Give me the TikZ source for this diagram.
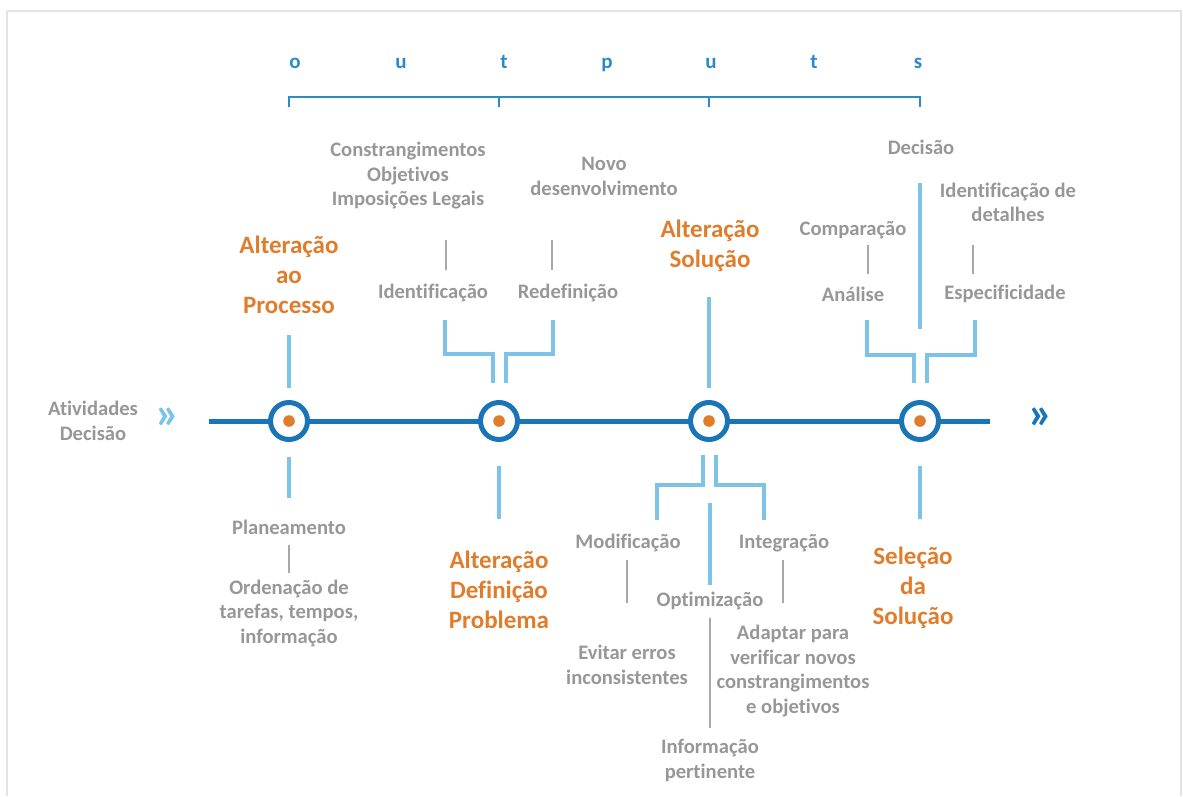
\documentclass[tikz,border=0pt]{standalone}
\usepackage{fontspec}
\setmainfont{Carlito}[Ligatures=NoCommon]
\definecolor{greytxt}{HTML}{979797}
\definecolor{greyline}{HTML}{A8A8A8}
\definecolor{orangetxt}{HTML}{E07D2C}
\definecolor{lightblue}{HTML}{7DC3E8}
\definecolor{darkblue}{HTML}{1A75B7}
\definecolor{midblue}{HTML}{2A8BC7}
\definecolor{framegrey}{HTML}{E4E4E4}
\begin{document}
\begin{tikzpicture}[x=1pt,y=-1pt,
  lbl/.style={font=\bfseries\fontsize{20.6}{24.5}\selectfont, text=greytxt, align=center, inner sep=0pt},
  head/.style={font=\bfseries\fontsize{25}{30}\selectfont, text=orangetxt, align=center, inner sep=0pt},
  letter/.style={font=\bfseries\fontsize{21}{22}\selectfont, text=midblue, inner sep=0pt, anchor=base},
  chev/.style={font=\bfseries\fontsize{46}{46}\selectfont, inner sep=0pt},
  link/.style={line width=4pt, draw=lightblue},
  thinlink/.style={line width=2pt, draw=greyline},
  timeline/.style={line width=5pt, draw=darkblue},
  outbracket/.style={line width=2.5pt, draw=midblue},
  hub/.style={circle, minimum size=37pt, inner sep=0pt, draw=darkblue, line width=5pt, fill=white},
]
\useasboundingbox (0,0) rectangle (1183,796);
% light frame round the sheet
\draw[framegrey, line width=1.5pt] (7,796) -- (7,11) -- (1181,11) -- (1181,796);

% ---- outputs header ----
\foreach \ch/\xx [count=\i] in {o/295,u/401,t/504,p/607,u/711,t/814,s/918}
  \node[letter] (out\i) at (\xx,68) {\ch};
\coordinate (b1) at (289,97); \coordinate (b2) at (499,97);
\coordinate (b3) at (709,97); \coordinate (b4) at (920,97);
\coordinate (b1d) at (289,107); \coordinate (b2d) at (499,107);
\coordinate (b3d) at (709,107); \coordinate (b4d) at (920,107);
\draw[outbracket] (b1d) -- (b1) -- (b4) -- (b4d);
\draw[outbracket] (b2) -- (b2d);
\draw[outbracket] (b3) -- (b3d);

% ---- timeline ----
\coordinate (tlstart) at (209,421);
\coordinate (tlend) at (990,421);
\draw[timeline] (tlstart) -- (tlend);
\node[lbl] (atividades) at (93,421) {Atividades\\Decisão};
\node[chev, text=lightblue] (chevl) at (168,418) {»};
\node[chev, text=darkblue] (chevr) at (1041,418) {»};
\foreach \xx [count=\i] in {289,499,709,920} {
  \node[hub] (h\i) at (\xx,421) {};
  \fill[orangetxt] (h\i.center) circle (5.8pt);
}

% ---- stage 1: Alteração ao Processo ----
\node[head] (altproc) at (289,275) {Alteração\\ao\\Processo};
\coordinate (h1up) at (289,335); \coordinate (h1upe) at (289,388);
\draw[link] (h1up) -- (h1upe);
\coordinate (h1dn) at (289,457); \coordinate (h1dne) at (289,498);
\draw[link] (h1dn) -- (h1dne);
\node[lbl] (planeamento) at (289,527) {Planeamento};
\node[lbl] (ordenacao) at (289,613) {Ordenação de\\tarefas, tempos,\\informação};
\coordinate (t1a) at (289,545); \coordinate (t1b) at (289,573);
\draw[thinlink] (t1a) -- (t1b);

% ---- stage 2: Alteração Definição Problema ----
\node[lbl] (constr) at (408,176) {Constrangimentos\\Objetivos\\Imposições Legais};
\node[lbl] (novo) at (604,176.5) {Novo\\desenvolvimento};
\node[lbl] (identif) at (433,293) {Identificação};
\node[lbl] (redef) at (568,293) {Redefinição};
\coordinate (c2a) at (446,240); \coordinate (c2b) at (446,270);
\coordinate (c2c) at (552,240); \coordinate (c2d) at (552,270);
\draw[thinlink] (c2a) -- (c2b);
\draw[thinlink] (c2c) -- (c2d);
\coordinate (l2a) at (445,320); \coordinate (l2b) at (445,354);
\coordinate (l2c) at (493,354); \coordinate (l2d) at (493,383);
\draw[link] (l2a) -- (l2b) -- (l2c) -- (l2d);
\coordinate (r2a) at (553,320); \coordinate (r2b) at (553,354);
\coordinate (r2c) at (506,354); \coordinate (r2d) at (506,383);
\draw[link] (r2a) -- (r2b) -- (r2c) -- (r2d);
\coordinate (h2dn) at (499,466); \coordinate (h2dne) at (499,519);
\draw[link] (h2dn) -- (h2dne);
\node[head] (altdef) at (499,590) {Alteração\\Definição\\Problema};

% ---- stage 3: Alteração Solução ----
\node[head] (altsol) at (710,246) {Alteração\\Solução};
\coordinate (h3up) at (709,297); \coordinate (h3upe) at (709,388);
\draw[link] (h3up) -- (h3upe);
\coordinate (l3a) at (703,455); \coordinate (l3b) at (703,485);
\coordinate (l3c) at (657,485); \coordinate (l3d) at (657,520);
\draw[link] (l3a) -- (l3b) -- (l3c) -- (l3d);
\coordinate (r3a) at (716,455); \coordinate (r3b) at (716,485);
\coordinate (r3c) at (764,485); \coordinate (r3d) at (764,520);
\draw[link] (r3a) -- (r3b) -- (r3c) -- (r3d);
\coordinate (m3a) at (710,503); \coordinate (m3b) at (710,585);
\draw[link] (m3a) -- (m3b);
\node[lbl] (modif) at (628,543) {Modificação};
\node[lbl] (integ) at (784,543) {Integração};
\node[lbl] (optim) at (710,601) {Optimização};
\coordinate (t3a) at (627,560); \coordinate (t3b) at (627,603);
\draw[thinlink] (t3a) -- (t3b);
\coordinate (t3c) at (783,560); \coordinate (t3d) at (783,603);
\draw[thinlink] (t3c) -- (t3d);
\coordinate (t3e) at (710,618); \coordinate (t3f) at (710,728);
\draw[thinlink] (t3e) -- (t3f);
\node[lbl] (evitar) at (627,665) {Evitar erros\\inconsistentes};
\node[lbl] (adaptar) at (793,671) {Adaptar para\\verificar novos\\constrangimentos\\e objetivos};
\node[lbl] (informacao) at (710,760.5) {Informação\\pertinente};

% ---- stage 4: Seleção da Solução ----
\node[lbl] (decisao) at (921,147) {Decisão};
\coordinate (h4up) at (920,183); \coordinate (h4upe) at (920,329);
\draw[link] (h4up) -- (h4upe);
\node[lbl] (compar) at (853,230) {Comparação};
\node[lbl] (analise) at (853,294) {Análise};
\node[lbl] (identdet) at (1008,202.5) {Identificação de\\detalhes};
\node[lbl] (especif) at (1005,294) {Especificidade};
\coordinate (t4a) at (868,245); \coordinate (t4b) at (868,274);
\draw[thinlink] (t4a) -- (t4b);
\coordinate (t4c) at (973,245); \coordinate (t4d) at (973,274);
\draw[thinlink] (t4c) -- (t4d);
\coordinate (l4a) at (867,320); \coordinate (l4b) at (867,355);
\coordinate (l4c) at (914,355); \coordinate (l4d) at (914,383);
\draw[link] (l4a) -- (l4b) -- (l4c) -- (l4d);
\coordinate (r4a) at (975,320); \coordinate (r4b) at (975,355);
\coordinate (r4c) at (927,355); \coordinate (r4d) at (927,383);
\draw[link] (r4a) -- (r4b) -- (r4c) -- (r4d);
\coordinate (h4dn) at (920,466); \coordinate (h4dne) at (920,519);
\draw[link] (h4dn) -- (h4dne);
\node[head] (selecao) at (913,588) {Seleção\\da\\Solução};
\end{tikzpicture}
\end{document}
